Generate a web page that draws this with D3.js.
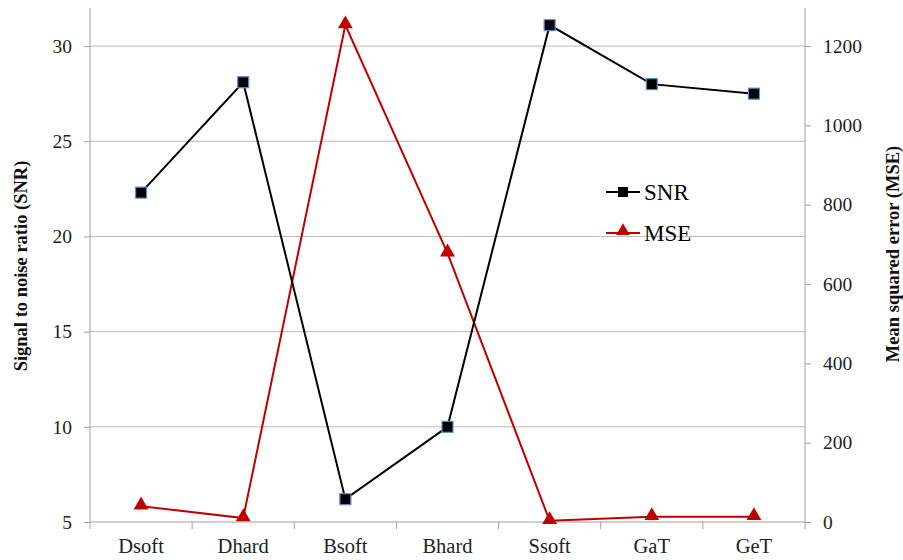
<!DOCTYPE html>
<html>
<head>
<meta charset="utf-8">
<script src="https://cdn.jsdelivr.net/npm/d3@7"></script>
<style>
  body { margin: 0; background: #fff; }
  svg, svg text { font-family: "Liberation Serif", "Times New Roman", serif !important; }
  .grid line { stroke: #b8b8b8; stroke-width: 1; }
  .axis path, .axis line { stroke: #a0a0a0; }
  .axis text { font-size: 19.5px; fill: #222; }
  .title { font-size: 18.5px; font-weight: bold; fill: #111; }
</style>
</head>
<body>
<div id="chart"></div>
<script>
const categories = ['Dsoft', 'Dhard', 'Bsoft', 'Bhard', 'Ssoft', 'GaT', 'GeT'];
const snrValues = [22.3, 28.1, 6.2, 10.0, 31.1, 28.0, 27.5];
const mseValues = [40, 10, 1253, 678, 3, 13, 13];
const snrTicks = [5, 10, 15, 20, 25, 30];
const mseTicks = [0, 200, 400, 600, 800, 1000, 1200];

const W = 903, H = 560;
const margin = { left: 90, right: 98, top: 8, bottom: 38 };
const width = W - margin.left - margin.right;
const height = H - margin.top - margin.bottom;

const svg = d3.select('#chart').append('svg')
   .attr('width', W)
   .attr('height', H);

const g = svg.append('g')
   .attr('transform', `translate(${margin.left}, ${margin.top})`);

const x = d3.scaleBand()
   .domain(categories)
   .range([0, width]);

const yL = d3.scaleLinear().domain([5, 32]).range([height, 0]);
const yR = d3.scaleLinear().domain([0, 1296]).range([height, 0]);

// gridlines
g.append('g').attr('class', 'grid')
   .selectAll('line')
   .data(snrTicks.slice(1))
   .enter().append('line')
      .attr('x1', 0).attr('x2', width)
      .attr('y1', d => yL(d)).attr('y2', d => yL(d));

// x axis with ticks between categories
const xAxis = g.append('g').attr('class', 'axis')
   .attr('transform', `translate(0, ${height})`);
xAxis.append('line').attr('x1', 0).attr('x2', width).attr('y1', 0).attr('y2', 0);
xAxis.selectAll('.tk')
   .data(d3.range(categories.length + 1))
   .enter().append('line')
      .attr('x1', i => i * x.bandwidth()).attr('x2', i => i * x.bandwidth())
      .attr('y1', 0).attr('y2', 7);
xAxis.selectAll('text')
   .data(categories)
   .enter().append('text')
      .attr('x', d => x(d) + x.bandwidth() / 2)
      .attr('y', 31)
      .attr('text-anchor', 'middle')
      .style('font-size', '20.5px')
      .text(d => d);

// left axis
const leftAxis = g.append('g').attr('class', 'axis')
   .call(d3.axisLeft(yL).tickValues(snrTicks).tickSize(6).tickPadding(12));
leftAxis.select('.domain').attr('d', `M0,0V${height}`);

// right axis
const rightAxis = g.append('g').attr('class', 'axis')
   .attr('transform', `translate(${width}, 0)`)
   .call(d3.axisRight(yR).tickValues(mseTicks).tickFormat(d3.format('d')).tickSize(6).tickPadding(12));
rightAxis.select('.domain').attr('d', `M0,0V${height}`);

svg.selectAll('.axis').attr('font-family', null).attr('font-size', null);

// axis titles
svg.append('text').attr('class', 'title')
   .attr('transform', 'translate(27, 266) rotate(-90)')
   .attr('text-anchor', 'middle')
   .text('Signal to noise ratio (SNR)');

svg.append('text').attr('class', 'title')
   .attr('transform', 'translate(899, 254) rotate(-90)')
   .attr('text-anchor', 'middle')
   .text('Mean squared error (MSE)');

const cx = d => x(d) + x.bandwidth() / 2;

// MSE line
g.append('path')
   .datum(categories.map((c, i) => [cx(c), yR(mseValues[i])]))
   .attr('fill', 'none')
   .attr('stroke', '#c00000')
   .attr('stroke-width', 2)
   .attr('d', d3.line());

// SNR line
g.append('path')
   .datum(categories.map((c, i) => [cx(c), yL(snrValues[i])]))
   .attr('fill', 'none')
   .attr('stroke', '#000')
   .attr('stroke-width', 2)
   .attr('d', d3.line());

const tri = d3.symbol().type(d3.symbolTriangle).size(95);

g.selectAll('.mse')
   .data(categories)
   .enter().append('path')
      .attr('class', 'mse')
      .attr('transform', (d, i) => `translate(${cx(d)}, ${yR(mseValues[i]) - 1})`)
      .attr('d', tri)
      .attr('fill', '#c00000');

g.selectAll('.snr')
   .data(categories)
   .enter().append('rect')
      .attr('class', 'snr')
      .attr('x', d => cx(d) - 5.5)
      .attr('y', (d, i) => yL(snrValues[i]) - 5.5)
      .attr('width', 11).attr('height', 11)
      .attr('fill', '#000')
      .attr('stroke', '#5b8fd0')
      .attr('stroke-width', 1.2);

// legend
const legend = svg.append('g').attr('transform', 'translate(606, 192)');
legend.append('line').attr('x1', 0).attr('x2', 34).attr('y1', 0).attr('y2', 0)
   .attr('stroke', '#000').attr('stroke-width', 2);
legend.append('rect').attr('x', 12).attr('y', -5).attr('width', 10).attr('height', 10).attr('fill', '#000');
legend.append('text').attr('x', 38).attr('y', 8).attr('font-size', 23).text('SNR');

legend.append('line').attr('x1', 0).attr('x2', 34).attr('y1', 41).attr('y2', 41)
   .attr('stroke', '#c00000').attr('stroke-width', 2);
legend.append('path').attr('transform', 'translate(17, 39)')
   .attr('d', d3.symbol().type(d3.symbolTriangle).size(80)).attr('fill', '#c00000');
legend.append('text').attr('x', 38).attr('y', 49).attr('font-size', 23).text('MSE');
</script>
</body>
</html>
